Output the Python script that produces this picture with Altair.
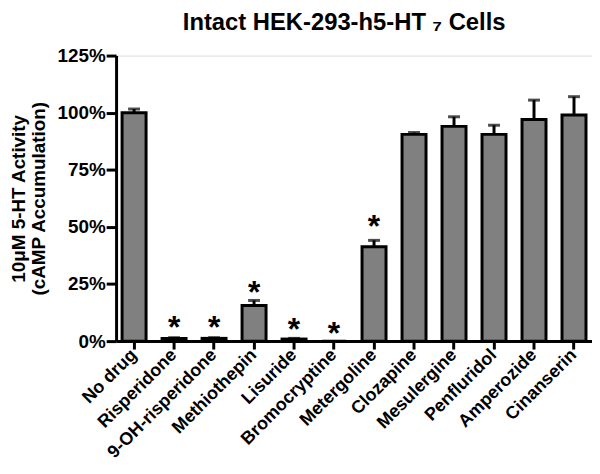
import altair as alt
import pandas as pd

drugs = ["No drug", "Risperidone", "9-OH-risperidone", "Methiothepin", "Lisuride",
         "Bromocryptine", "Metergoline", "Clozapine", "Mesulergine", "Penfluridol",
         "Amperozide", "Cinanserin"]
values = [100, 1.2, 1.2, 15.6, 0.9, 0, 41.3, 90.5, 94, 90.5, 97, 99]
errors = [1.6, 0.3, 0.3, 2.2, 0.3, 0, 2.8, 0.8, 4.2, 4.0, 8.5, 8]
star_drugs = ["Risperidone", "9-OH-risperidone", "Methiothepin", "Lisuride",
              "Bromocryptine", "Metergoline"]
star_levels = [9.1, 9.1, 24.6, 8.4, 6.4, 53.2]

df = pd.DataFrame({"drug": drugs, "value": values, "err": errors})
df["top"] = df["value"] + df["err"]
stars_df = pd.DataFrame({"drug": star_drugs, "level": star_levels})

FONT = "Liberation Sans"

x_scale = alt.Scale(paddingInner=0.4, paddingOuter=0.15)
y_scale = alt.Scale(domain=[0, 125], nice=False)

x = alt.X("drug:N", sort=drugs, title=None, scale=x_scale,
          axis=alt.Axis(labelAngle=-45, labelAlign="right", labelBaseline="middle",
                        labelFont=FONT, labelFontSize=18, labelFontWeight="bold",
                        labelColor="black", labelPadding=3,
                        domainColor="black", domainWidth=3,
                        tickColor="black", tickWidth=3, tickSize=8))

bars = alt.Chart(df).mark_bar(fill="#808080", stroke="black", strokeWidth=3).encode(
    x=x,
    y=alt.Y("value:Q", scale=y_scale,
            title=["10\u03bcM 5-HT Activity", "(cAMP Accumulation)"],
            axis=alt.Axis(values=[0, 25, 50, 75, 100, 125], labelExpr="datum.value + '%'",
                          labelFont=FONT, labelFontSize=19, labelFontWeight="bold",
                          labelColor="black", labelPadding=1,
                          titleFont=FONT, titleFontSize=19, titleFontWeight="bold",
                          titleColor="black", titleLineHeight=20,
                          titleX=-88, titleY=144, titleAlign="center",
                          domainColor="black", domainWidth=3,
                          tickColor="black", tickWidth=3, tickSize=10, grid=False)),
)

err_df = df[df["err"] > 0]
rules = alt.Chart(err_df).mark_rule(color="black", strokeWidth=3).encode(
    x=alt.X("drug:N", sort=drugs), y=alt.Y("value:Q", scale=y_scale), y2="top:Q")
caps = alt.Chart(err_df).mark_tick(color="black", thickness=3, size=12).encode(
    x=alt.X("drug:N", sort=drugs), y=alt.Y("top:Q", scale=y_scale))

stars = alt.Chart(stars_df).mark_text(
    text="*", font=FONT, fontSize=32, fontWeight="bold", color="black",
    baseline="alphabetic", dy=18).encode(
    x=alt.X("drug:N", sort=drugs), y=alt.Y("level:Q", scale=y_scale))

chart = alt.layer(bars, rules, caps, stars).properties(
    width=480, height=288,
    autosize=alt.AutoSizeParams(type="none"),
    padding={"left": 109, "top": 46, "right": 0, "bottom": 125},
    title=alt.TitleParams("Intact HEK-293-h5-HT \u2087 Cells", font=FONT, fontSize=24,
                          fontWeight="bold", color="black", anchor="middle",
                          offset=12, dx=-10),
).configure_view(stroke=None).configure(background="white")

chart.save("out.html", embed_options={"renderer": "svg", "actions": False})
